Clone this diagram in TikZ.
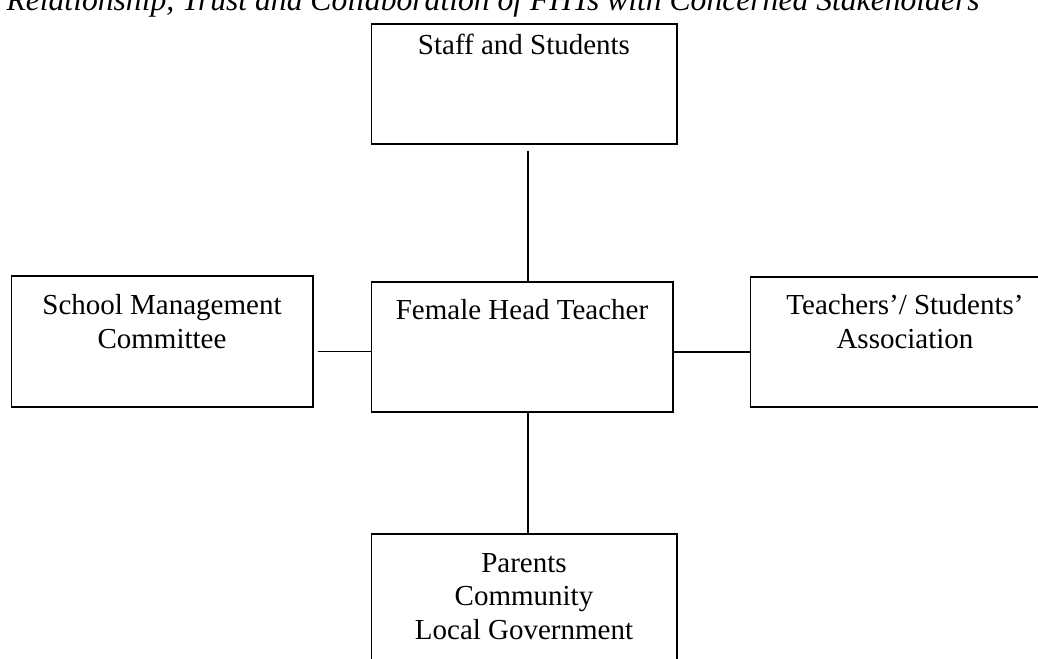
\documentclass[tikz,border=0pt]{standalone}
\usepackage{fontspec}
\setmainfont{Liberation Serif}
\usetikzlibrary{positioning}

\tikzset{
  stakebox/.style={draw,line width=0.6pt,rectangle,inner sep=0pt},
  boxtext/.style={inner sep=0pt,align=center},
}

\begin{document}
\begin{tikzpicture}[x=0.02cm,y=-0.02cm,line width=0.6pt,
    every node/.style={font=\fontsize{16.5}{19.1}\selectfont}]
\clip (0,0) rectangle (1038,659);
\useasboundingbox (0,0) rectangle (1038,659);

% title (cut off at the top of the page)
\node[anchor=base east,font=\fontsize{18}{21}\selectfont\itshape] (ttl) at (986,10.5)
  {Relationship, Trust and Collaboration of FHTs with Concerned Stakeholders};

% boxes
\node[stakebox,minimum width=6.12cm,minimum height=2.4cm] (staff) at (524,84) {};
\node[stakebox,minimum width=6.04cm,minimum height=2.6cm] (fht) at (522,347) {};
\node[stakebox,minimum width=6.04cm,minimum height=2.62cm] (smc) at (162,341.5) {};
\node[stakebox,minimum width=6.2cm,minimum height=2.6cm] (tsa) at (905,342) {};
\node[stakebox,minimum width=6.12cm,minimum height=2.6cm] (par) at (524,599) {};

% texts in the boxes
\node[boxtext,below=5.5pt of staff.north] (stafftxt) {Staff and Students};
\node[boxtext,below=10pt of fht.north] (fhttxt) {Female Head Teacher};
\node[boxtext,below=10.5pt of smc.north] (smctxt) {School Management\\Committee};
\node[boxtext,below=10pt of tsa.north] (tsatxt) {Teachers’/ Students’\\Association};
\node[boxtext,below=11pt of par.north] (partxt) {Parents\\Community\\Local Government};

% links
\draw ([shift={(4,6)}]staff.south) coordinate (ct) -- (ct |- fht.north);
\draw ([shift={(6,0)}]fht.south) coordinate (cb) -- (cb |- par.north);
\draw ([shift={(4,10)}]smc.east) coordinate (cl) -- (cl -| fht.west);
\draw ([yshift=-5*0.02cm]fht.east) coordinate (cr) -- (cr -| tsa.west);
\end{tikzpicture}
\end{document}
